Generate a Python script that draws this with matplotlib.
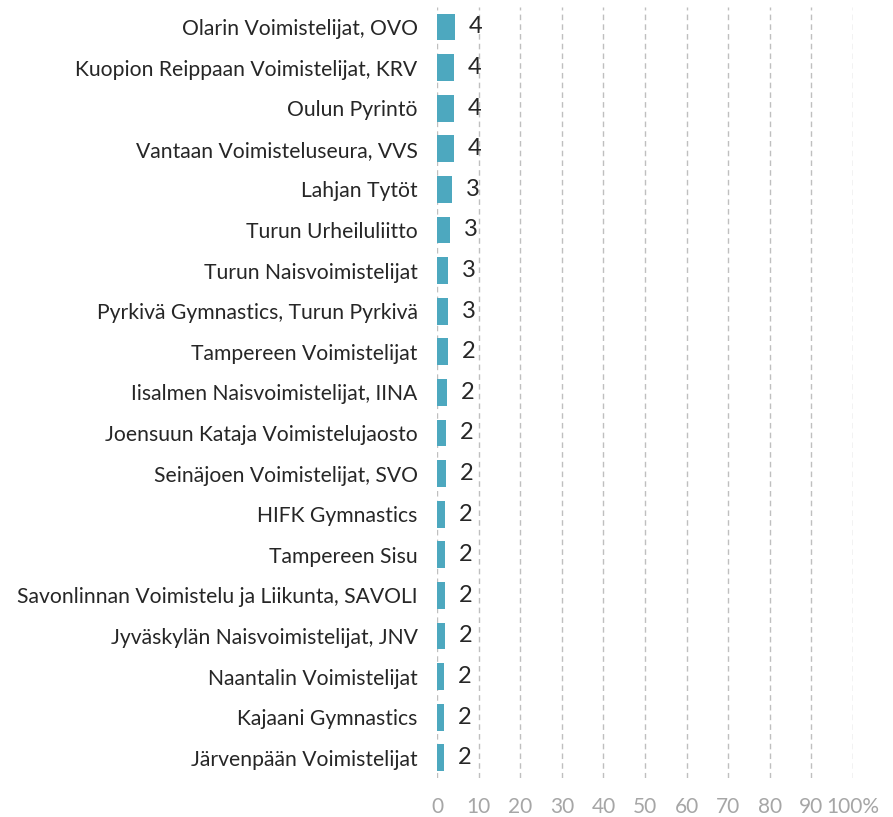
import matplotlib.pyplot as plt

clubs = ['Olarin Voimistelijat, OVO', 'Kuopion Reippaan Voimistelijat, KRV',
         'Oulun Pyrintö', 'Vantaan Voimisteluseura, VVS', 'Lahjan Tytöt',
         'Turun Urheiluliitto', 'Turun Naisvoimistelijat',
         'Pyrkivä Gymnastics, Turun Pyrkivä', 'Tampereen Voimistelijat',
         'Iisalmen Naisvoimistelijat, IINA', 'Joensuun Kataja Voimistelujaosto',
         'Seinäjoen Voimistelijat, SVO', 'HIFK Gymnastics', 'Tampereen Sisu',
         'Savonlinnan Voimistelu ja Liikunta, SAVOLI',
         'Jyväskylän Naisvoimistelijat, JNV', 'Naantalin Voimistelijat',
         'Kajaani Gymnastics', 'Järvenpään Voimistelijat']
percent = [4.3, 4.0, 4.0, 4.0, 3.5, 3.1, 2.6, 2.6, 2.6, 2.5,
           2.2, 2.2, 1.9, 1.9, 1.85, 1.8, 1.75, 1.6, 1.6]
counts = ['4', '4', '4', '4', '3', '3', '3', '3', '2', '2',
          '2', '2', '2', '2', '2', '2', '2', '2', '2']
xticks = [0, 10, 20, 30, 40, 50, 60, 70, 80, 90, 100]
xticklabels = ['0', '10', '20', '30', '40', '50', '60', '70', '80', '90', '100%']

plt.rcParams['font.family'] = ['Lato', 'DejaVu Sans']

fig = plt.figure(figsize=(8.93, 8.17), dpi=100)
ax = fig.add_axes([0.4894, 0.0477, 0.4658, 0.9441])

pos = list(range(len(clubs)))
ax.barh(pos, percent, height=0.66, color='#4DA8BF', zorder=3)
for y, v, c in zip(pos, percent, counts):
    ax.annotate(c, (v, y), xytext=(10, 0), textcoords='offset points',
                va='center', ha='left', fontsize=17, color='#262626')

ax.set_xlim(0, 100)
ax.set_ylim(len(clubs) - 0.5, -0.5)
ax.set_yticks(pos)
ax.set_yticklabels(clubs, fontsize=15.2, color='#262626')
ax.set_xticks(xticks)
ax.set_xticklabels(xticklabels, fontsize=15, color='#A6A6A6')
ax.tick_params(axis='both', length=0)
ax.tick_params(axis='x', pad=14)
ax.tick_params(axis='y', pad=14)
ax.grid(axis='x', color='#BFBFBF', linestyle=(0, (4, 3)), linewidth=1, zorder=0)
for s in ax.spines.values():
    s.set_visible(False)

fig.savefig('out.png', dpi=100)
